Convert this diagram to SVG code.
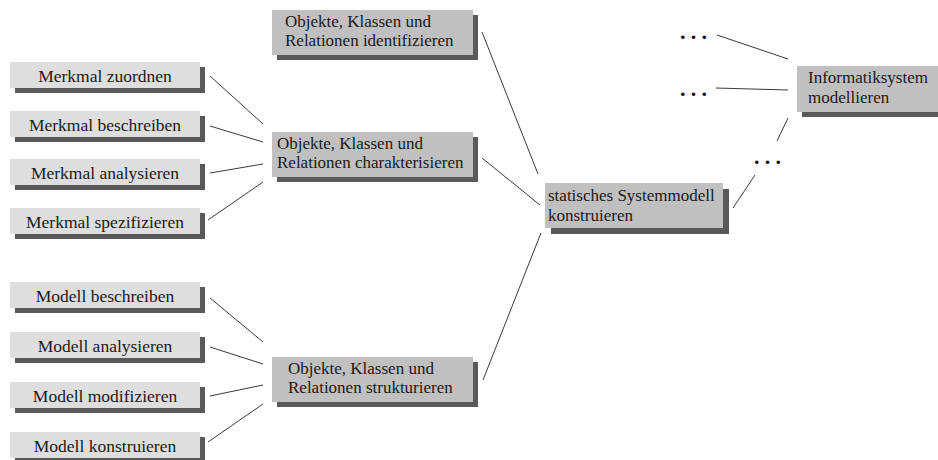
<svg xmlns="http://www.w3.org/2000/svg" width="938" height="460" viewBox="0 0 938 460">
<style>
.sh{fill:#595959}
.lt{fill:#dedede}
.dk{fill:#c0c0c0}
text{font-family:"Liberation Serif","Times New Roman",serif;font-size:17.5px;fill:#1a1a1a}
.c{text-anchor:middle}
.t2{font-size:17px}
.dots{font-weight:bold;font-size:22px;letter-spacing:5.2px;fill:#111}
#connectors line{stroke:#3a3a3a;stroke-width:1}
</style>
<rect width="938" height="460" fill="#fff"/>
<g id="connectors">
<line x1="210" y1="76" x2="263" y2="124"/>
<line x1="210" y1="126" x2="263" y2="142"/>
<line x1="210" y1="173" x2="263" y2="164"/>
<line x1="208" y1="220" x2="263" y2="182"/>
<line x1="210" y1="298" x2="263" y2="342"/>
<line x1="210" y1="347" x2="263" y2="364"/>
<line x1="210" y1="396" x2="263" y2="385"/>
<line x1="208" y1="442" x2="263" y2="404"/>
<line x1="482" y1="32" x2="538" y2="174"/>
<line x1="482" y1="158" x2="540" y2="205"/>
<line x1="483" y1="380" x2="541" y2="233"/>
<line x1="733" y1="208" x2="755" y2="175"/>
<line x1="777" y1="141" x2="788" y2="118"/>
<line x1="716" y1="88" x2="788" y2="90"/>
<line x1="717" y1="35" x2="788" y2="59"/>
</g>
<g id="dots1"><text class="dots" x="680" y="39">...</text></g>
<g id="dots2"><text class="dots" x="680" y="96">...</text></g>
<g id="dots3"><text class="dots" x="754" y="164">...</text></g>
<g id="m1"><rect class="sh" x="15" y="67" width="190" height="26"/><rect class="lt" x="10" y="62" width="190" height="26"/><text class="c" x="105" y="81.5">Merkmal zuordnen</text></g>
<g id="m2"><rect class="sh" x="15" y="116" width="190" height="26"/><rect class="lt" x="10" y="111" width="190" height="26"/><text class="c" x="105" y="130.5">Merkmal beschreiben</text></g>
<g id="m3"><rect class="sh" x="15" y="164" width="190" height="26"/><rect class="lt" x="10" y="159" width="190" height="26"/><text class="c" x="105" y="178.5">Merkmal analysieren</text></g>
<g id="m4"><rect class="sh" x="15" y="213" width="190" height="26"/><rect class="lt" x="10" y="208" width="190" height="26"/><text class="c" x="105" y="227.5">Merkmal spezifizieren</text></g>
<g id="d1"><rect class="sh" x="15" y="287" width="190" height="26"/><rect class="lt" x="10" y="282" width="190" height="26"/><text class="c" x="105" y="301.5">Modell beschreiben</text></g>
<g id="d2"><rect class="sh" x="15" y="337" width="190" height="26"/><rect class="lt" x="10" y="332" width="190" height="26"/><text class="c" x="105" y="351.5">Modell analysieren</text></g>
<g id="d3"><rect class="sh" x="15" y="387" width="190" height="26"/><rect class="lt" x="10" y="382" width="190" height="26"/><text class="c" x="105" y="401.5">Modell modifizieren</text></g>
<g id="d4"><rect class="sh" x="15" y="437" width="190" height="26"/><rect class="lt" x="10" y="432" width="190" height="26"/><text class="c" x="105" y="451.5">Modell konstruieren</text></g>
<g id="identify"><rect class="sh" x="277" y="15" width="201" height="45"/><rect class="dk" x="272" y="10" width="201" height="45"/><text class="t2" x="285" y="27">Objekte, Klassen und</text><text class="t2" x="285" y="46">Relationen identifizieren</text></g>
<g id="characterize"><rect class="sh" x="277" y="137" width="201" height="45"/><rect class="dk" x="272" y="132" width="201" height="45"/><text class="t2" x="277" y="149">Objekte, Klassen und</text><text class="t2" x="277" y="168">Relationen charakterisieren</text></g>
<g id="structure"><rect class="sh" x="277" y="362" width="201" height="45"/><rect class="dk" x="272" y="357" width="201" height="45"/><text class="t2" x="288" y="374">Objekte, Klassen und</text><text class="t2" x="288" y="393">Relationen strukturieren</text></g>
<g id="static"><rect class="sh" x="551" y="189" width="178" height="45"/><rect class="dk" x="545" y="183" width="178" height="45"/><text class="t2" x="548" y="201">statisches Systemmodell</text><text class="t2" x="548" y="221">konstruieren</text></g>
<g id="informatik"><rect class="sh" x="802" y="71" width="150" height="46"/><rect class="dk" x="797" y="66" width="150" height="46"/><text class="t2" x="808" y="83">Informatiksystem</text><text class="t2" x="808" y="103">modellieren</text></g>
</svg>
